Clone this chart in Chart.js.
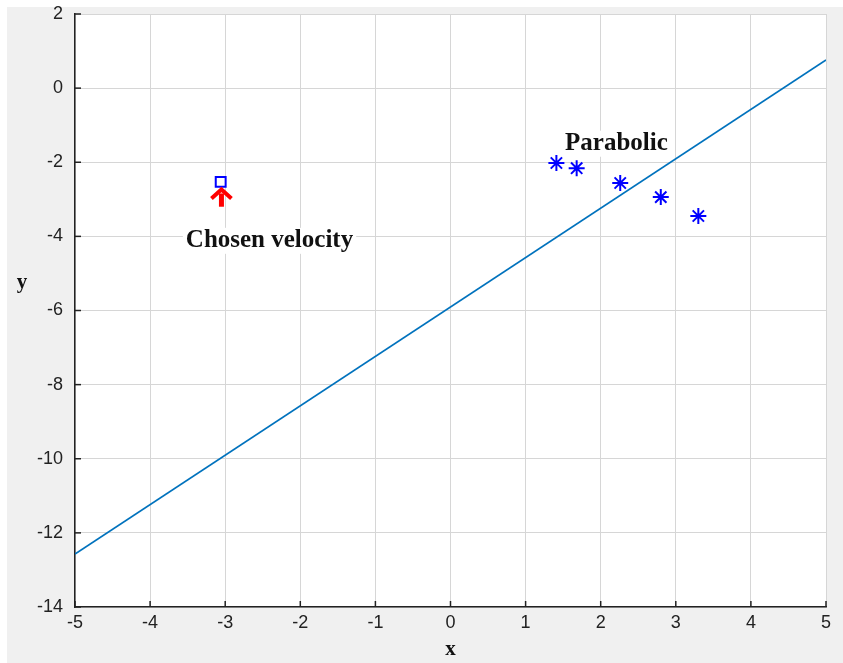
<!DOCTYPE html>
<html>
<head>
<meta charset="utf-8">
<script src="https://cdn.jsdelivr.net/npm/chart.js@4.4.1/dist/chart.umd.min.js"></script>
<style>
  html, body { margin: 0; padding: 0; background: #fff; }
  #wrap { width: 843px; height: 663px; position: relative; }
</style>
</head>
<body>
<div id="wrap"><canvas id="grafico" width="843" height="663"></canvas></div>
<script>
// datos
const lineaX = [-5, 5];
const lineaY = [-12.57, 0.76];
const parabolicX = [1.41, 1.68, 2.26, 2.80, 3.30];
const parabolicY = [-2.02, -2.16, -2.56, -2.94, -3.45];
const elegidaX = [-3.06];
const elegidaY = [-2.53];
const ticksX = [-5, -4, -3, -2, -1, 0, 1, 2, 3, 4, 5];
const ticksY = [2, 0, -2, -4, -6, -8, -10, -12, -14];

const fuenteTicks = { family: "'Liberation Sans Narrow', 'Liberation Sans', Arial, sans-serif", size: 18 };
const serifBold = "bold 25px 'Liberation Serif', 'Times New Roman', serif";

// fondo gris de la figura y blanco del area
const fondo = {
  id: "fondo",
  beforeDraw(chart) {
    const { ctx, chartArea } = chart;
    ctx.save();
    ctx.fillStyle = "#f0f0f0";
    ctx.fillRect(7, 7, chart.width - 7, chart.height - 7);
    ctx.fillStyle = "#ffffff";
    ctx.fillRect(chartArea.left, chartArea.top, chartArea.right - chartArea.left, chartArea.bottom - chartArea.top);
    ctx.restore();
  }
};

// ticks hacia adentro, etiquetas, flecha y textos
const anotaciones = {
  id: "anotaciones",
  afterDatasetsDraw(chart) {
    const { ctx, chartArea } = chart;
    const sx = chart.scales.x, sy = chart.scales.y;
    ctx.save();
    ctx.strokeStyle = "#222";
    ctx.lineWidth = 1.5;
    ticksX.forEach((v) => {
      const px = sx.getPixelForValue(v);
      ctx.beginPath();
      ctx.moveTo(px, chartArea.bottom);
      ctx.lineTo(px, chartArea.bottom - 6);
      ctx.stroke();
    });
    ticksY.forEach((v) => {
      const py = sy.getPixelForValue(v);
      ctx.beginPath();
      ctx.moveTo(chartArea.left, py);
      ctx.lineTo(chartArea.left + 6, py);
      ctx.stroke();
    });

    // flecha roja
    const ax = sx.getPixelForValue(-3.05);
    const ay0 = sy.getPixelForValue(-3.2);
    const ay1 = sy.getPixelForValue(-2.68);
    ctx.strokeStyle = "#ff0000";
    ctx.fillStyle = "#ff0000";
    ctx.lineWidth = 5;
    ctx.beginPath();
    ctx.moveTo(ax, ay0);
    ctx.lineTo(ax, ay1 + 6);
    ctx.stroke();
    ctx.lineWidth = 4;
    ctx.lineJoin = "miter";
    ctx.beginPath();
    ctx.moveTo(ax - 10, ay1 + 11);
    ctx.lineTo(ax, ay1 + 2);
    ctx.lineTo(ax + 10, ay1 + 11);
    ctx.stroke();

    // textos con fondo blanco
    ctx.font = serifBold;
    ctx.textAlign = "center";
    ctx.textBaseline = "middle";
    [["Chosen velocity", -2.41, -4.12], ["Parabolic", 2.21, -1.5]].forEach(([t, x, y]) => {
      const px = sx.getPixelForValue(x), py = sy.getPixelForValue(y);
      const w = ctx.measureText(t).width;
      ctx.fillStyle = "#ffffff";
      ctx.fillRect(px - w / 2 - 3, py - 13, w + 6, 26);
      ctx.fillStyle = "#111";
      ctx.fillText(t, px, py);
    });

    // titulos de ejes
    ctx.font = "bold 21px 'Liberation Serif', 'Times New Roman', serif";
    ctx.fillStyle = "#111";
    ctx.fillText("x", sx.getPixelForValue(0), 650);
    ctx.fillText("y", 22, 283);
    ctx.restore();
  }
};

const ctx = document.getElementById("grafico").getContext("2d");
new Chart(ctx, {
  type: "scatter",
  data: {
    datasets: [
      {
        type: "line",
        label: "recta",
        data: lineaX.map((x, i) => ({ x, y: lineaY[i] })),
        borderColor: "#0072BD",
        borderWidth: 1.6,
        pointRadius: 0,
        fill: false,
      },
      {
        label: "Parabolic",
        data: parabolicX.map((x, i) => ({ x, y: parabolicY[i] })),
        pointStyle: "star",
        pointRadius: 8,
        borderColor: "#0000ff",
        borderWidth: 2,
        backgroundColor: "#0000ff",
      },
      {
        label: "Chosen velocity",
        data: elegidaX.map((x, i) => ({ x, y: elegidaY[i] })),
        pointStyle: "rect",
        pointRadius: 7,
        borderColor: "#0000ff",
        borderWidth: 2,
        backgroundColor: "rgba(0,0,0,0)",
      },
    ],
  },
  options: {
    responsive: false,
    animation: false,
    events: [],
    layout: { padding: { left: 0, right: 17, top: 14, bottom: 0 } },
    plugins: { legend: { display: false }, tooltip: { enabled: false } },
    scales: {
      x: {
        type: "linear",
        min: -5,
        max: 5,
        afterFit: (s) => { s.height = 56; s.paddingLeft = 0; s.paddingRight = 0; },
        afterBuildTicks: (s) => { s.ticks = ticksX.map((v) => ({ value: v })); },
        grid: { color: "#d6d6d6", lineWidth: 1, drawTicks: false },
        border: { color: "#222", width: 1.5 },
        ticks: { color: "#222", font: fuenteTicks, padding: 5, maxRotation: 0 },
      },
      y: {
        type: "linear",
        min: -14,
        max: 2,
        afterFit: (s) => { s.width = 75; s.paddingTop = 0; s.paddingBottom = 0; },
        afterBuildTicks: (s) => { s.ticks = ticksY.map((v) => ({ value: v })); },
        grid: { color: "#d6d6d6", lineWidth: 1, drawTicks: false },
        border: { color: "#222", width: 1.5 },
        ticks: { color: "#222", font: fuenteTicks, padding: 12 },
      },
    },
  },
  plugins: [fondo, anotaciones],
});
</script>
</body>
</html>
